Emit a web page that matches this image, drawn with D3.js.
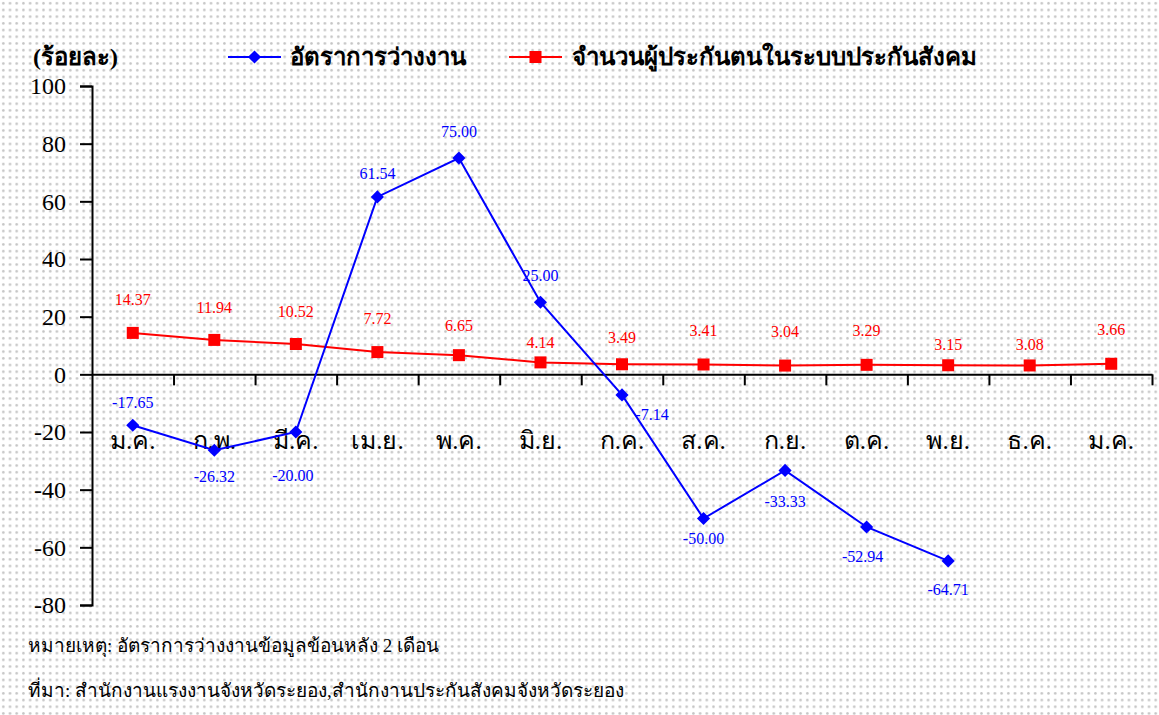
<!DOCTYPE html>
<html>
<head>
<meta charset="utf-8">
<script src="https://cdn.jsdelivr.net/npm/d3@7"></script>
<style>
  body { margin: 0; background: #fff; }
  svg text { font-family: "Liberation Serif", "Times New Roman", serif; }
</style>
</head>
<body>
<div id="chart"></div>
<script>
var width = 1159;
var height = 715;

// data
var months = ["ม.ค.", "ก.พ.", "มี.ค.", "เม.ย.", "พ.ค.", "มิ.ย.", "ก.ค.", "ส.ค.", "ก.ย.", "ต.ค.", "พ.ย.", "ธ.ค.", "ม.ค."];
var unemployment = [-17.65, -26.32, -20.00, 61.54, 75.00, 25.00, -7.14, -50.00, -33.33, -52.94, -64.71, null, null];
var insured = [14.37, 11.94, 10.52, 7.72, 6.65, 4.14, 3.49, 3.41, 3.04, 3.29, 3.15, 3.08, 3.66];
var yTicks = [-80, -60, -40, -20, 0, 20, 40, 60, 80, 100];
var seriesNames = ["อัตราการว่างงาน", "จำนวนผู้ประกันตนในระบบประกันสังคม"];

// label placement (pixels from point)
var blueDx = [0, 0, -3, 0, 0, 0, 30, 0, 0, -4, 0, 0, 0];
var blueDy = [-23, 26, 43, -23, -27, -27, 19, 20, 31, 29, 28, 0, 0];
var redDy = [-33, -33, -33, -34, -30, -20, -27, -34, -34, -34, -21, -21, -34];

var svg = d3.select("#chart").append("svg")
    .attr("width", width)
    .attr("height", height);

// dotted background
var defs = svg.append("defs");
var pat = defs.append("pattern")
    .attr("id", "dots")
    .attr("width", 6.7)
    .attr("height", 6.7)
    .attr("patternUnits", "userSpaceOnUse");
pat.append("rect").attr("width", 6.7).attr("height", 6.7).attr("fill", "#fff");
pat.append("circle").attr("cx", 3.3).attr("cy", 3.3).attr("r", 1.3).attr("fill", "#c4c4c4");
svg.append("rect").attr("width", width).attr("height", height).attr("fill", "url(#dots)");

var x = d3.scaleBand().domain(d3.range(months.length)).range([92, 1152]);
var xEdge = d3.scaleLinear().domain([0, months.length]).range([92, 1152]);
var y = d3.scaleLinear().domain([-80, 100]).range([605, 86]);
var cx = i => x(i) + x.bandwidth() / 2;

// y axis
var yAxis = svg.append("g")
    .attr("transform", "translate(92,0)")
    .call(d3.axisLeft(y).tickValues(yTicks).tickSize(12).tickPadding(14).tickFormat(d => String(d)));
yAxis.attr("font-family", "'Liberation Serif', serif").attr("font-size", 24);
yAxis.select(".domain").attr("stroke", "#000").attr("stroke-width", 2);
yAxis.selectAll(".tick line").attr("stroke", "#000").attr("stroke-width", 2);
yAxis.selectAll(".tick text").attr("fill", "#000");

// x axis at zero
var xAxis = svg.append("g")
    .attr("transform", "translate(0," + y(0) + ")")
    .call(d3.axisBottom(xEdge).tickValues(d3.range(1, months.length + 1)).tickSize(11).tickSizeOuter(0).tickFormat(""));
xAxis.select(".domain").attr("stroke", "#000").attr("stroke-width", 2);
xAxis.selectAll(".tick line").attr("stroke", "#000").attr("stroke-width", 2);

svg.append("g").selectAll("text")
    .data(months)
    .join("text")
    .attr("x", (d, i) => cx(i))
    .attr("y", 449)
    .attr("text-anchor", "middle")
    .attr("fill", "#000")
    .style("font-size", "25px")
    .text(d => d);

// red line
var redPts = insured.map((v, i) => ({i: i, v: v}));
var line = d3.line().defined(d => d.v !== null).x(d => cx(d.i)).y(d => y(d.v));

svg.append("path")
    .datum(redPts)
    .attr("d", line)
    .attr("fill", "none")
    .attr("stroke", "#ff0000")
    .attr("stroke-width", 2);

svg.append("g").selectAll("rect")
    .data(redPts)
    .join("rect")
    .attr("x", d => cx(d.i) - 6)
    .attr("y", d => y(d.v) - 6)
    .attr("width", 12)
    .attr("height", 12)
    .attr("fill", "#ff0000");

svg.append("g").selectAll("text")
    .data(redPts)
    .join("text")
    .attr("x", d => cx(d.i))
    .attr("y", d => y(d.v) + redDy[d.i])
    .attr("dy", "0.35em")
    .attr("text-anchor", "middle")
    .attr("fill", "#ff0000")
    .style("font-size", "16px")
    .text(d => d.v.toFixed(2));

// blue line
var bluePts = unemployment.map((v, i) => ({i: i, v: v})).filter(d => d.v !== null);

svg.append("path")
    .datum(bluePts)
    .attr("d", line)
    .attr("fill", "none")
    .attr("stroke", "#0000ff")
    .attr("stroke-width", 2);

svg.append("g").selectAll("path")
    .data(bluePts)
    .join("path")
    .attr("d", d3.symbol(d3.symbolDiamond2, 110))
    .attr("transform", d => "translate(" + cx(d.i) + "," + y(d.v) + ")")
    .attr("fill", "#0000ff");

svg.append("g").selectAll("text")
    .data(bluePts)
    .join("text")
    .attr("x", d => cx(d.i) + blueDx[d.i])
    .attr("y", d => y(d.v) + blueDy[d.i])
    .attr("dy", "0.35em")
    .attr("text-anchor", "middle")
    .attr("fill", "#0000ff")
    .style("font-size", "16px")
    .text(d => d.v.toFixed(2));

// unit label
svg.append("text")
    .attr("x", 33)
    .attr("y", 65)
    .attr("fill", "#000")
    .style("font-size", "24px")
    .style("font-weight", "bold")
    .text("(ร้อยละ)");

// legend
var lg1 = svg.append("g").attr("transform", "translate(228,57)");
lg1.append("line").attr("x1", 0).attr("x2", 53).attr("stroke", "#0000ff").attr("stroke-width", 2);
lg1.append("path").attr("d", d3.symbol(d3.symbolDiamond2, 110)).attr("transform", "translate(26.5,0)").attr("fill", "#0000ff");
lg1.append("text").attr("x", 62).attr("y", 0).attr("dy", "0.35em").attr("fill", "#000")
    .style("font-size", "24px").style("font-weight", "bold").text(seriesNames[0]);

var lg2 = svg.append("g").attr("transform", "translate(509,57)");
lg2.append("line").attr("x1", 0).attr("x2", 53).attr("stroke", "#ff0000").attr("stroke-width", 2);
lg2.append("rect").attr("x", 20.5).attr("y", -6).attr("width", 12).attr("height", 12).attr("fill", "#ff0000");
lg2.append("text").attr("x", 63).attr("y", 0).attr("dy", "0.35em").attr("fill", "#000")
    .style("font-size", "24px").style("font-weight", "bold").text(seriesNames[1]);

// notes
svg.append("text")
    .attr("x", 28)
    .attr("y", 652)
    .attr("fill", "#000")
    .style("font-size", "19px")
    .text("หมายเหตุ: อัตราการว่างงานข้อมูลข้อนหลัง 2 เดือน");

svg.append("text")
    .attr("x", 28)
    .attr("y", 697)
    .attr("fill", "#000")
    .style("font-size", "19px")
    .text("ที่มา: สำนักงานแรงงานจังหวัดระยอง,สำนักงานประกันสังคมจังหวัดระยอง");
</script>
</body>
</html>
